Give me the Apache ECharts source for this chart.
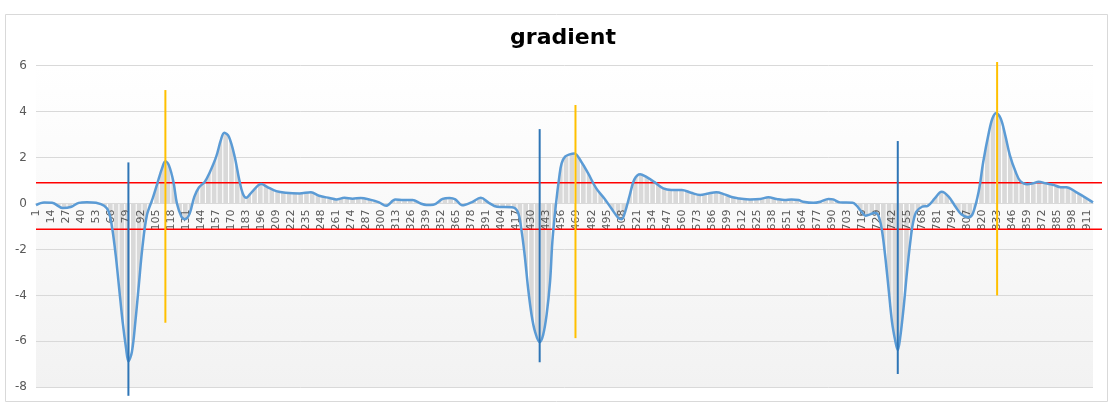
<!DOCTYPE html>
<html>
<head>
<meta charset="utf-8">
<script src="https://cdn.jsdelivr.net/npm/echarts@6/dist/echarts.min.js"></script>
<style>
  html, body { margin: 0; padding: 0; background: #ffffff; }
  #chart { width: 1113px; height: 414px; }
</style>
</head>
<body>
<div id="chart"></div>
<script>
// ---- data ----
const categoryCount = 916;
const categories = Array.from({ length: categoryCount }, (_, i) => String(i + 1));

const sampleIndex = [
  0, 7, 14, 23, 30, 37, 44, 52, 59, 63, 66, 69, 72, 75, 78, 80, 83, 86, 89, 92,
  96, 101, 105, 109, 112, 115, 119, 122, 126, 129, 133, 137, 141, 146, 150, 156, 160, 163, 167, 172,
  176, 179, 182, 187, 195, 200, 208, 216, 228, 238, 245, 254, 260, 267, 274, 281, 289, 297, 303, 311,
  318, 326, 333, 338, 344, 352, 358, 363, 369, 377, 385, 392, 399, 412, 417, 420, 423, 426, 429, 432,
  436, 439, 442, 445, 447, 450, 453, 455, 458, 462, 466, 472, 478, 485, 492, 498, 504, 507, 510, 514,
  518, 523, 528, 536, 543, 550, 559, 567, 575, 582, 589, 596, 603, 609, 618, 627, 634, 641, 648, 654,
  660, 664, 673, 679, 686, 690, 696, 707, 710, 715, 718, 722, 726, 729, 732, 735, 738, 741, 744, 746,
  748, 751, 754, 757, 759, 762, 767, 772, 778, 784, 790, 796, 801, 807, 811, 816, 820, 825, 828, 831,
  835, 839, 843, 848, 852, 858, 863, 868, 874, 881, 887, 892, 900, 907, 915
];
const gradientValues = [
  -0.07, 0.04, 0.03, -0.19, -0.15, 0.03, 0.06, 0.03, -0.10, -0.36, -1.09, -2.25, -3.70, -5.15, -6.31, -6.87, -6.46, -5.15, -3.56, -1.96,
  -0.51, 0.22, 0.87, 1.52, 1.84, 1.67, 0.94, 0.00, -0.58, -0.68, -0.44, 0.29, 0.70, 0.94, 1.31, 2.04, 2.76, 3.08, 2.91, 2.04,
  1.02, 0.44, 0.25, 0.51, 0.85, 0.73, 0.54, 0.47, 0.44, 0.49, 0.34, 0.24, 0.18, 0.25, 0.21, 0.24, 0.17, 0.05, -0.10, 0.17,
  0.15, 0.15, 0.00, -0.06, -0.05, 0.20, 0.24, 0.18, -0.08, 0.05, 0.25, 0.03, -0.14, -0.16, -0.36, -1.08, -2.24, -3.69, -4.85, -5.58,
  -6.04, -5.72, -4.85, -3.40, -1.66, -0.07, 1.17, 1.75, 2.04, 2.14, 2.18, 1.82, 1.31, 0.66, 0.22, -0.21, -0.62, -0.68, -0.36, 0.37,
  1.05, 1.28, 1.17, 0.91, 0.66, 0.59, 0.59, 0.47, 0.37, 0.44, 0.49, 0.40, 0.27, 0.22, 0.18, 0.20, 0.27, 0.20, 0.15, 0.18,
  0.15, 0.08, 0.03, 0.08, 0.20, 0.18, 0.05, 0.03, -0.07, -0.38, -0.53, -0.47, -0.40, -0.50, -1.08, -2.24, -3.69, -5.15, -6.02, -6.38,
  -5.87, -4.56, -2.97, -1.60, -0.90, -0.36, -0.14, -0.10, 0.22, 0.51, 0.30, -0.14, -0.47, -0.60, -0.43, 0.51, 1.82, 3.13, 3.71, 3.93,
  3.71, 2.98, 2.11, 1.38, 0.98, 0.84, 0.88, 0.95, 0.88, 0.81, 0.71, 0.71, 0.51, 0.30, 0.05
];

// vertical marker lines (0-based category index, low, high)
const blueMarkerIndex = [80, 436, 746];
const blueMarkerLow = [-8.37, -6.91, -7.42];
const blueMarkerHigh = [1.79, 3.24, 2.72];
const yellowMarkerIndex = [112, 467, 832];
const yellowMarkerLow = [-5.19, -5.86, -4.00];
const yellowMarkerHigh = [4.94, 4.29, 6.16];

// horizontal threshold lines
const upperThreshold = 0.905;
const lowerThreshold = -1.12;

const yMin = -8, yMax = 6, yStep = 2;

// ---- layout ----
const gridTop = 65.7, gridBottom = 26.7, chartH = 414;
const plotH = chartH - gridTop - gridBottom;
const zeroOffset = -plotH * (0 - yMin) / (yMax - yMin); // put category axis at value 0

// ---- styling helpers ----
const stripe = document.createElement('canvas');
stripe.width = 75; stripe.height = 8;
(function () {
  const c = stripe.getContext('2d');
  c.fillStyle = '#d9d9d9';
  c.fillRect(0, 0, 75, 8);
  c.fillStyle = '#ffffff';
  const step = 75 / 13;
  for (let k = 0; k < 14; k++) {
    const x = (3.0 + k * step) % 75;
    c.fillRect(x, 0, 1.1, 8);
  }
})();

const curveData = sampleIndex.map((idx, i) => [idx, gradientValues[i]]);

const series = [];
series.push({
  type: 'line', xAxisIndex: 0, yAxisIndex: 0, data: curveData,
  smooth: 0.35, symbol: 'none', lineStyle: { width: 0, opacity: 0 },
  areaStyle: { color: { image: stripe, repeat: 'repeat' }, opacity: 1 },
  z: 1, silent: true
});
[upperThreshold, lowerThreshold].forEach(function (v) {
  series.push({
    type: 'line', xAxisIndex: 1, yAxisIndex: 1, data: [[0, v], [1, v]],
    symbol: 'none', lineStyle: { color: '#ff0000', width: 1.5 }, z: 3, silent: true
  });
});
series.push({
  type: 'line', xAxisIndex: 0, yAxisIndex: 0, data: curveData,
  smooth: 0.35, symbol: 'none', lineStyle: { color: '#5b9bd5', width: 2.5 },
  z: 4, silent: true
});
blueMarkerIndex.forEach(function (idx, i) {
  series.push({
    type: 'line', xAxisIndex: 0, yAxisIndex: 0,
    data: [[idx, blueMarkerLow[i]], [idx, blueMarkerHigh[i]]],
    symbol: 'none', clip: false, lineStyle: { color: '#2e75b6', width: 2 }, z: 5, silent: true
  });
});
yellowMarkerIndex.forEach(function (idx, i) {
  series.push({
    type: 'line', xAxisIndex: 0, yAxisIndex: 0,
    data: [[idx, yellowMarkerLow[i]], [idx, yellowMarkerHigh[i]]],
    symbol: 'none', clip: false, lineStyle: { color: '#ffc000', width: 2 }, z: 5, silent: true
  });
});

const chart = echarts.init(document.getElementById('chart'), null, { renderer: 'canvas' });
chart.setOption({
  animation: false,
  backgroundColor: '#ffffff',
  textStyle: { fontFamily: 'DejaVu Sans' },
  graphic: [
    { type: 'rect', shape: { x: 5.5, y: 14.5, width: 1102, height: 387 },
      style: { fill: 'none', stroke: '#d9d9d9', lineWidth: 1 }, silent: true, z: -10 },
    { type: 'text', x: 563, y: 38,
      style: { text: 'gradient', font: 'bold 22px "DejaVu Sans"', fill: '#000000',
               textAlign: 'center', textVerticalAlign: 'middle' }, silent: true }
  ],
  grid: [
    { left: 36, right: 20, top: gridTop, bottom: gridBottom, show: true, borderWidth: 0, z: 0,
      backgroundColor: { type: 'linear', x: 0, y: 0, x2: 0, y2: 1,
        colorStops: [{ offset: 0, color: '#ffffff' }, { offset: 1, color: '#f2f2f2' }] } },
    { left: 36, right: 11, top: gridTop, bottom: gridBottom, show: false }
  ],
  xAxis: [
    { type: 'category', gridIndex: 0, data: categories, boundaryGap: false, z: 2,
      position: 'bottom', offset: zeroOffset,
      axisLine: { show: true, onZero: false, lineStyle: { color: '#d9d9d9' } },
      axisTick: { show: false },
      axisLabel: { interval: 12, rotate: 90, fontSize: 11, color: '#595959', margin: 6,
                   fontFamily: 'DejaVu Sans' },
      splitLine: { show: false } },
    { type: 'value', gridIndex: 1, min: 0, max: 1, show: false }
  ],
  yAxis: [
    { type: 'value', gridIndex: 0, min: yMin, max: yMax, interval: yStep, z: 0,
      axisLine: { show: false }, axisTick: { show: false },
      axisLabel: { fontSize: 12, color: '#595959', margin: 9, fontFamily: 'DejaVu Sans' },
      splitLine: { lineStyle: { color: '#d9d9d9', width: 1 } } },
    { type: 'value', gridIndex: 1, min: yMin, max: yMax, show: false }
  ],
  series: series
});
</script>
</body>
</html>
